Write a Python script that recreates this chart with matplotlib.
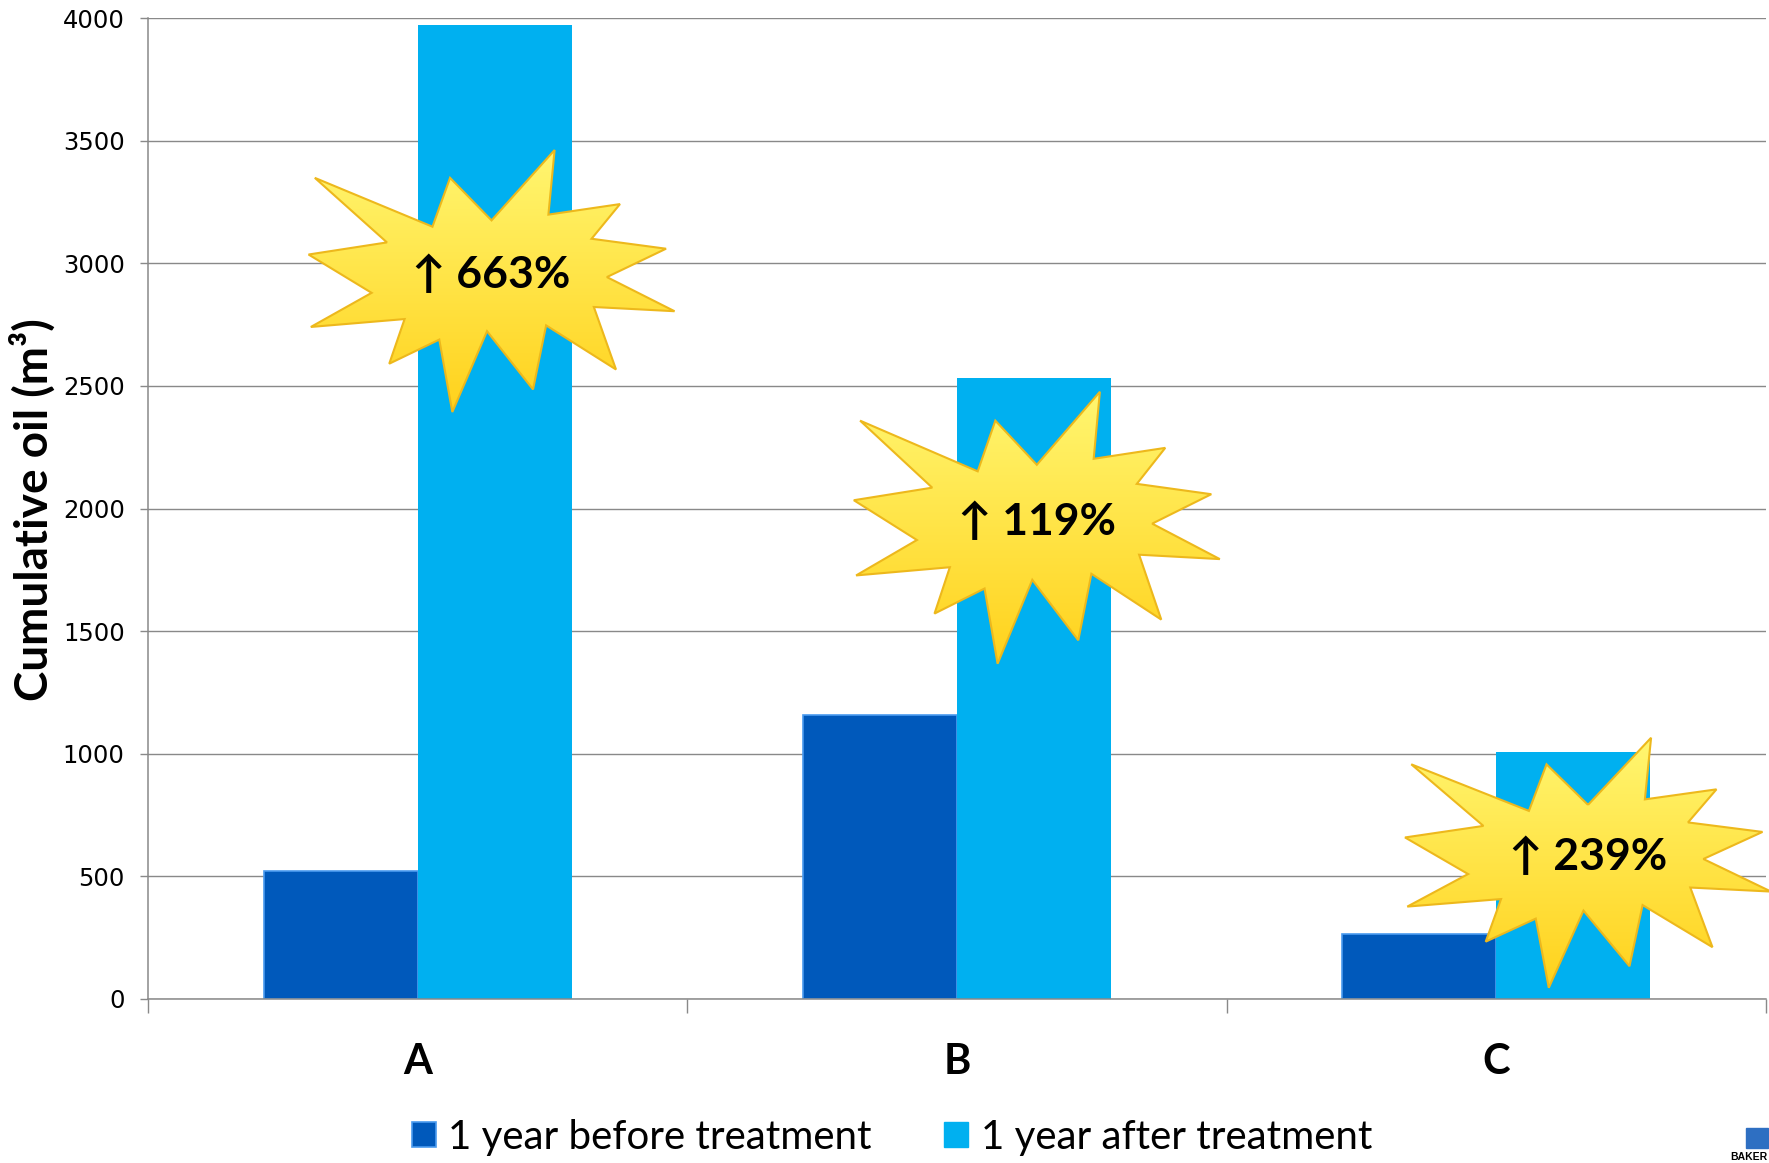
import matplotlib
matplotlib.use('Agg')
import matplotlib.pyplot as plt
import numpy as np
from matplotlib.patches import Polygon, Patch, Rectangle
from matplotlib.colors import LinearSegmentedColormap

# data
categories = ['A', 'B', 'C']
before = [522, 1158, 264]
after = [3972, 2531, 1006]
series_names = ['1 year before treatment', '1 year after treatment']
increase_labels = ['\u2191 663%', '\u2191 119%', '\u2191 239%']
label_dx = [0.137, 0.148, 0.170]     # offset of burst label from category centre
label_y = [2952, 1946, 580]          # value where burst label sits
burst_h = [262, 272, 250]            # burst height in px
burst_w = 366
yticks = np.arange(0, 4001, 500)

# Office "Explosion 1" outline (irregularSeal1), 21600 units box
SEAL = np.array([
    (10800, 5800), (14522, 0), (14155, 5325), (18380, 4457), (16702, 7315),
    (21097, 8137), (17607, 10475), (21600, 13290), (16837, 12942),
    (18145, 18095), (14020, 14457), (13247, 19737), (10532, 14935),
    (8485, 21600), (7715, 15627), (4762, 17617), (5667, 13937),
    (135, 14587), (3722, 11775), (0, 8615), (4627, 7617), (370, 2295),
    (7312, 6320), (8352, 2295)]) / 21600.0

DARK = '#0059BB'
LIGHT = '#00B0F0'
GRAY = '#898989'
W, H = 1769, 1163

fig = plt.figure(figsize=(W / 100, H / 100), dpi=100)
ax = fig.add_axes([148 / W, 1 - 999 / H, (1766 - 148) / W, 981 / H])

x = np.arange(len(categories))
bw = 1 / 3.5
ax.bar(x - bw / 2, before, bw, color=DARK, edgecolor='#4A9BEF', linewidth=1.2, zorder=2)
ax.bar(x + bw / 2, after, bw, color=LIGHT, linewidth=0, zorder=2)

ax.set_xlim(-0.5, 2.5)
ax.set_ylim(0, 4000)
ax.set_yticks(yticks)
ax.set_xticks(np.arange(-0.5, 3, 1))
ax.set_xticklabels([])
ax.yaxis.grid(True, color=GRAY, linewidth=1.0)
ax.set_axisbelow(True)
for s in ['top', 'right']:
    ax.spines[s].set_visible(False)
for s in ['left', 'bottom']:
    ax.spines[s].set_color(GRAY)
    ax.spines[s].set_linewidth(1.1)
ax.tick_params(axis='y', length=5.8, width=1, color=GRAY, labelsize=17.5, pad=11)
ax.tick_params(axis='x', length=10, width=1, color=GRAY)

for xi, c in zip(x, categories):
    ax.text(xi, -0.064, c, transform=ax.get_xaxis_transform(), ha='center', va='center',
            fontsize=30, fontweight='bold', family='Lato')

fig.text(33 / W, 1 - 510 / H, 'Cumulative oil (m\u00b3)', rotation=90, ha='center', va='center',
         fontsize=33, fontweight='bold', family='Lato')

# starbursts with gradient fill
cmap = LinearSegmentedColormap.from_list('burst', ['#FFF671', '#FFD21C'])
grad = np.linspace(0, 1, 256).reshape(-1, 1)
for i in range(len(categories)):
    xd = x[i] + label_dx[i]
    yd = label_y[i]
    cx, cy = ax.transData.transform((xd, yd))
    cy -= 6
    px = cx + (SEAL[:, 0] - 0.5) * burst_w
    py = cy - (SEAL[:, 1] - 0.5) * burst_h[i]
    pts = ax.transData.inverted().transform(np.column_stack([px, py]))
    poly = Polygon(pts, closed=True, facecolor='none', edgecolor='#EDB81C',
                   linewidth=1.5, zorder=5, clip_on=False)
    ax.add_patch(poly)
    x0, y0 = pts.min(axis=0)
    x1, y1 = pts.max(axis=0)
    im = ax.imshow(grad, cmap=cmap, extent=(x0, x1, y0, y1), origin='upper',
                   aspect='auto', zorder=4, interpolation='bilinear')
    im.set_clip_box(None)
    im.set_clip_path(poly)
    ax.text(xd, yd, increase_labels[i], ha='center', va='center', fontsize=32,
            fontweight='bold', family=['Lato', 'DejaVu Sans'], zorder=6)

ax.set_xlim(-0.5, 2.5)
ax.set_ylim(0, 4000)

handles = [Patch(facecolor=DARK, edgecolor='#4A9BEF', linewidth=1.2),
           Patch(facecolor=LIGHT, edgecolor=LIGHT)]
fig.legend(handles, series_names, loc='center', bbox_to_anchor=(892 / W, 1 - 1137 / H),
           ncol=2, frameon=False, prop={'family': 'Lato', 'size': 29},
           handlelength=0.6, handleheight=0.6, handletextpad=0.3, columnspacing=1.8)

# small logo in the corner
fig.add_artist(Rectangle((1746 / W, 1 - 1148 / H), 22 / W, 20 / H,
                         transform=fig.transFigure, color='#2E6FC2'))
fig.text(1767 / W, 1 / H, 'BAKER', ha='right', va='bottom', fontsize=7.5,
         fontweight='bold', family='Liberation Sans')

fig.savefig('out.png', dpi=100)
